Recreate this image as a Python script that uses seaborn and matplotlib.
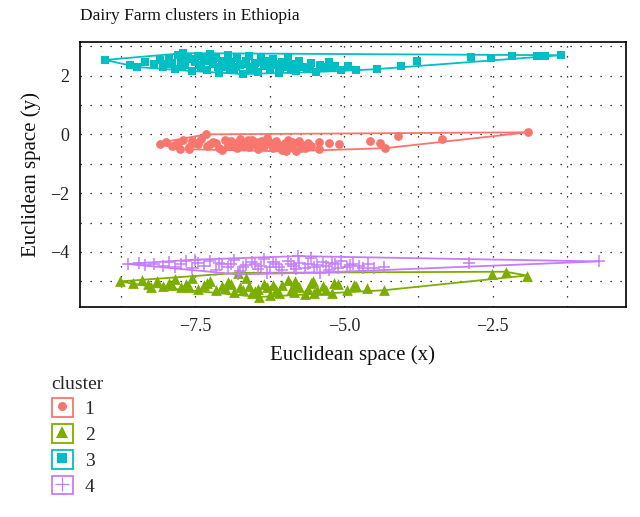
import matplotlib
matplotlib.use("Agg")
import matplotlib.pyplot as plt
from matplotlib.patches import Rectangle
from matplotlib.lines import Line2D
from matplotlib.legend_handler import HandlerTuple
import seaborn as sns
import pandas as pd
import numpy as np

# cluster 1 (circles)
c1_x = [-1.90, -7.32, -8.10, -7.76, -4.31, -4.57, -4.39, -4.10, -3.35, -5.42, -5.25, -5.08, -5.42,
        -8.00, -7.90, -7.80, -7.70, -7.60, -7.50, -7.40, -7.30, -7.20, -7.10, -7.00, -6.95, -6.85,
        -6.80, -6.75, -6.70, -6.65, -6.60, -6.55, -6.50, -6.45, -6.40, -6.35, -6.30, -6.25, -6.20,
        -6.15, -6.10, -6.05, -6.00, -5.95, -5.90, -5.85, -5.80, -5.75, -5.70, -5.65, -5.60, -5.55,
        -5.98, -7.05, -7.60,
        -7.85, -7.45, -7.15, -6.90, -6.72, -6.58, -6.42, -6.28, -6.18, -6.02, -5.88, -5.72, -6.62,
        -6.48, -6.33, -6.22, -6.08, -6.88, -7.25, -7.55]
c1_y = [0.07, 0.00, -0.33, -0.50, -0.47, -0.22, -0.28, -0.07, -0.17, -0.25, -0.30, -0.32, -0.49,
        -0.25, -0.40, -0.30, -0.20, -0.42, -0.28, -0.15, -0.38, -0.25, -0.45, -0.20, -0.35, -0.28,
        -0.48, -0.15, -0.38, -0.25, -0.42, -0.18, -0.32, -0.50, -0.24, -0.40, -0.12, -0.30, -0.45,
        -0.22, -0.36, -0.52, -0.28, -0.18, -0.40, -0.30, -0.55, -0.22, -0.35, -0.45, -0.28, -0.38,
        -0.58, -0.52, -0.50,
        -0.35, -0.33, -0.30, -0.22, -0.30, -0.33, -0.38, -0.22, -0.30, -0.40, -0.25, -0.45, -0.20,
        -0.26, -0.30, -0.36, -0.44, -0.40, -0.32, -0.22]

# cluster 2 (triangles)
c2_x = [-8.77, -2.52, -2.28, -1.93, -4.33, -6.43, -6.79, -8.24,
        -8.55, -8.40, -8.30, -8.15, -8.05, -7.95, -7.85, -7.75, -7.65, -7.55, -7.45, -7.35, -7.25,
        -7.15, -7.05, -6.95, -6.85, -6.75, -6.65, -6.55, -6.45, -6.35, -6.25, -6.15, -6.05, -5.95,
        -5.85, -5.75, -5.65, -5.55, -5.45, -5.35, -5.20, -5.10, -4.95, -4.80, -4.62,
        -7.90, -7.60, -7.30, -7.00, -6.90, -6.70, -6.60, -6.50, -6.30, -6.20, -6.10, -5.90, -5.80,
        -5.60, -5.50, -5.30, -5.83, -5.53, -5.17, -4.84]
c2_y = [-5.00, -4.74, -4.67, -4.80, -5.30, -5.53, -4.71, -5.18,
        -5.05, -4.95, -5.10, -4.98, -5.15, -5.05, -4.92, -5.20, -5.08, -4.90, -5.25, -5.12, -4.98,
        -5.30, -5.15, -5.02, -5.35, -5.20, -4.90, -5.40, -5.25, -5.08, -5.45, -5.30, -5.12, -4.95,
        -5.35, -5.20, -5.42, -5.05, -5.30, -5.15, -5.38, -5.10, -5.30, -5.15, -5.22,
        -5.12, -5.18, -5.05, -5.22, -5.10, -5.30, -5.15, -5.32, -5.20, -5.12, -5.38, -5.28, -5.10,
        -5.25, -5.40, -5.28, -5.00, -4.98, -5.05, -5.12]

# cluster 3 (squares)
c3_x = [-9.02, -7.70, -1.36, -1.63, -1.76, -2.18, -2.53, -2.87, -3.78, -4.05, -4.44,
        -8.60, -8.48, -8.35, -8.20, -8.10, -8.05, -7.95, -7.90, -7.85, -7.80, -7.75, -7.68, -7.62,
        -7.55, -7.50, -7.45, -7.40, -7.35, -7.30, -7.25, -7.20, -7.15, -7.10, -7.05, -7.00, -6.95,
        -6.90, -6.85, -6.80, -6.75, -6.70, -6.65, -6.60, -6.55, -6.50, -6.45, -6.40, -6.35, -6.30,
        -6.25, -6.20, -6.15, -6.10, -6.05, -6.00, -5.95, -5.90, -5.85, -5.80, -5.75, -5.70, -5.62,
        -5.55, -5.48, -5.40, -5.32, -5.25, -5.15, -5.05, -4.93, -4.80,
        -7.98, -7.72, -7.58, -7.42, -7.28, -7.12, -6.98, -6.82, -6.68, -6.52, -6.38, -6.22, -6.08,
        -5.92, -5.78, -5.58, -5.38, -5.20, -6.58, -6.92, -7.32]
c3_y = [2.53, 2.76, 2.69, 2.66, 2.66, 2.66, 2.58, 2.64, 2.49, 2.34, 2.22,
        2.35, 2.29, 2.45, 2.38, 2.52, 2.30, 2.60, 2.42, 2.22, 2.70, 2.50, 2.35, 2.60,
        2.15, 2.45, 2.68, 2.30, 2.55, 2.20, 2.72, 2.40, 2.60, 2.10, 2.50, 2.30, 2.70,
        2.45, 2.18, 2.58, 2.35, 2.05, 2.50, 2.66, 2.25, 2.42, 2.12, 2.60, 2.33, 2.48,
        2.18, 2.55, 2.38, 2.10, 2.45, 2.28, 2.58, 2.20, 2.40, 2.15, 2.50, 2.30, 2.22,
        2.42, 2.12, 2.35, 2.25, 2.45, 2.34, 2.20, 2.32, 2.18,
        2.40, 2.30, 2.55, 2.35, 2.48, 2.28, 2.42, 2.30, 2.40, 2.30, 2.45, 2.35, 2.25,
        2.35, 2.32, 2.30, 2.28, 2.30, 2.18, 2.20, 2.62]

# cluster 4 (plus)
c4_x = [-0.72, -2.90, -4.33, -4.69, -8.63, -6.79, -7.51, -5.77,
        -8.45, -8.35, -8.20, -8.05, -7.95, -7.85, -7.75, -7.65, -7.55, -7.45, -7.35, -7.25, -7.15,
        -7.05, -6.95, -6.85, -6.75, -6.65, -6.55, -6.45, -6.35, -6.25, -6.15, -6.05, -5.95, -5.85,
        -5.75, -5.65, -5.55, -5.45, -5.35, -5.25, -5.15, -5.05, -4.95, -4.85, -4.75, -4.60, -4.50,
        -5.40, -6.30,
        -7.10, -6.90, -6.70, -6.50, -6.40, -6.20, -6.10, -5.90, -5.80, -5.60, -5.50, -5.30, -5.20,
        -5.10, -4.90]
c4_y = [-4.32, -4.38, -4.51, -4.56, -4.41, -4.76, -4.26, -4.14,
        -4.38, -4.45, -4.40, -4.48, -4.35, -4.52, -4.42, -4.30, -4.55, -4.38, -4.48, -4.32, -4.60,
        -4.42, -4.52, -4.28, -4.65, -4.45, -4.35, -4.58, -4.25, -4.50, -4.40, -4.62, -4.30, -4.48,
        -4.38, -4.55, -4.22, -4.45, -4.35, -4.60, -4.42, -4.30, -4.52, -4.40, -4.48, -4.42, -4.55,
        -4.70, -4.72,
        -4.36, -4.40, -4.50, -4.42, -4.48, -4.34, -4.50, -4.42, -4.58, -4.40, -4.50, -4.46, -4.38,
        -4.55, -4.45]

clusters = ["1", "2", "3", "4"]
colors = ["#F8766D", "#7CAE00", "#00BFC4", "#C77CFF"]
markers = ["o", "^", "s", "+"]
sizes = [40, 60, 36, 80]

df = pd.concat([
    pd.DataFrame({"x": c1_x, "y": c1_y, "cluster": "1"}),
    pd.DataFrame({"x": c2_x, "y": c2_y, "cluster": "2"}),
    pd.DataFrame({"x": c3_x, "y": c3_y, "cluster": "3"}),
    pd.DataFrame({"x": c4_x, "y": c4_y, "cluster": "4"}),
])


def hull(pts):
    # monotone chain convex hull
    pts = sorted(set(pts))
    def cross(o, a, b):
        return (a[0]-o[0])*(b[1]-o[1]) - (a[1]-o[1])*(b[0]-o[0])
    lower, upper = [], []
    for p in pts:
        while len(lower) >= 2 and cross(lower[-2], lower[-1], p) <= 0:
            lower.pop()
        lower.append(p)
    for p in reversed(pts):
        while len(upper) >= 2 and cross(upper[-2], upper[-1], p) <= 0:
            upper.pop()
        upper.append(p)
    return lower[:-1] + upper[:-1]


sns.set_style("white")
plt.rcParams["font.family"] = ["Liberation Serif", "DejaVu Serif"]

fig, ax = plt.subplots(figsize=(6.4, 5.17), dpi=100)
fig.subplots_adjust(left=80/640, right=626/640, top=1-42/517, bottom=1-307/517)

ax.set_xlim(-9.44, -0.26)
ax.set_ylim(-5.87, 3.14)
ax.set_xticks([-7.5, -5.0, -2.5])
ax.set_xticklabels(["\u22127.5", "\u22125.0", "\u22122.5"])
ax.set_yticks([-4, -2, 0, 2])
ax.set_yticklabels(["\u22124", "\u22122", "0", "2"])
ax.set_xticks(np.arange(-8.75, 0, 1.25), minor=True)
ax.set_yticks(np.arange(-5, 4, 1), minor=True)
ax.grid(True, which="both", color="black", linestyle=(0, (1, 7)), linewidth=0.9)
ax.tick_params(which="major", length=4, width=1, color="black", labelsize=13,
               labelcolor="#222222", direction="out")
ax.tick_params(which="minor", length=0)
ax.tick_params(axis="x", pad=4)
ax.tick_params(axis="y", pad=4)
for s in ax.spines.values():
    s.set_color("black")
    s.set_linewidth(1.2)

for cl, col, mk, sz in zip(clusters, colors, markers, sizes):
    sub = df[df["cluster"] == cl]
    h = hull(list(zip(sub["x"], sub["y"])))
    h = h + [h[0]]
    ax.plot([p[0] for p in h], [p[1] for p in h], color=col, lw=1.3, zorder=2)
    if mk == "+":
        sns.scatterplot(data=sub, x="x", y="y", color=col, marker=mk, s=sz,
                        linewidth=1.1, ax=ax, legend=False, zorder=3)
    else:
        sns.scatterplot(data=sub, x="x", y="y", color=col, marker=mk, s=sz,
                        linewidth=0, ax=ax, legend=False, zorder=3)

ax.set_xlabel("Euclidean space (x)", fontsize=15, color="#111111", labelpad=7)
ax.set_ylabel("Euclidean space (y)", fontsize=15, color="#111111", labelpad=6)
ax.set_title("Dairy Farm clusters in Ethiopia", loc="left", fontsize=12.5,
             color="#111111", pad=16)

handles = []
for col, mk in zip(colors, markers):
    box = Rectangle((0, 0), 1, 1, facecolor="white", edgecolor=col, linewidth=1.3)
    if mk == "+":
        m = Line2D([], [], marker=mk, color=col, linestyle="none", markersize=10,
                   markeredgewidth=0.9)
    elif mk == "^":
        m = Line2D([], [], marker=mk, color=col, linestyle="none", markersize=9,
                   markeredgewidth=0)
    else:
        m = Line2D([], [], marker=mk, color=col, linestyle="none", markersize=6.5,
                   markeredgewidth=0)
    handles.append((box, m))

leg = fig.legend(handles, clusters, title="cluster", loc="upper left",
                 bbox_to_anchor=(38/640, 1-362/517), frameon=False,
                 handler_map={tuple: HandlerTuple(ndivide=1, pad=0)},
                 handlelength=1.1, handleheight=1.1, labelspacing=0.3,
                 handletextpad=0.6, fontsize=14, title_fontsize=14,
                 borderpad=0.2)
leg._legend_box.align = "left"

fig.savefig("out.png", dpi=100)
